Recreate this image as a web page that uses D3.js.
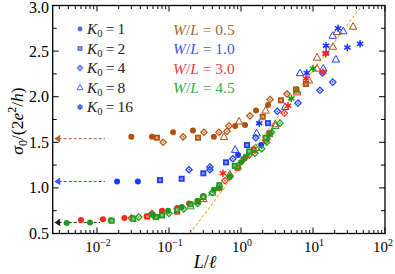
<!DOCTYPE html>
<html><head><meta charset="utf-8">
<script src="https://cdn.jsdelivr.net/npm/d3@7"></script>
<style>
html,body{margin:0;padding:0;background:#fff;}
svg{display:block;}
text{font-family:"Liberation Serif","Times New Roman",serif;}
</style></head>
<body><svg id="chart" width="395" height="274"></svg>
<script>
// ---------------- data ----------------
const k0Values = [1, 2, 4, 8, 16];
const wlLabels = ["0.5", "1.0", "3.0", "4.5"];
const xTickValues = [0.01, 0.1, 1, 10, 100];
const xTickExponents = ["\u22122", "\u22121", "0", "1", "2"];
const yTickValues = [0.5, 1.0, 1.5, 2.0, 2.5, 3.0];
const arrowLevels = [1.54, 1.07, 0.62];      // clean-limit values marked at the axis
const arrowEnds = [0.0129, 0.0129, 0.011];
const diffusiveLine = [[0.195, 0.5], [47.9, 3.0]];

// [L/l, sigma0, K0]
const seriesWL05 = [
 [0.030,1.56,1],[0.058,1.56,1],[0.114,1.61,1],[0.215,1.63,1],[0.42,1.56,1],[0.83,1.68,1],[1.14,1.69,1],[1.62,1.85,1],[2.37,1.91,1],
 [0.068,1.55,2],[0.253,1.55,2],[2.0,1.78,2],[3.59,1.96,2],[5.8,2.08,2],[8.0,2.14,2],
 [0.083,1.50,4],[0.157,1.56,4],[0.306,1.61,4],[0.495,1.61,4],[0.639,1.62,4],[0.68,1.68,4],[1.33,1.79,4],[2.53,1.97,4],[4.35,2.03,4],
 [0.58,1.56,8],[0.94,1.73,8],[2.2,1.85,8],[8.8,2.18,8],[11.4,2.43,8],[18.9,2.55,8],[21.5,2.71,8],[36,2.77,8]
];
const seriesWL10 = [
 [0.019,1.07,1],[0.037,1.07,1],[0.91,1.36,1],[1.9,1.47,1],
 [0.075,1.085,2],[0.15,1.10,2],[0.30,1.16,2],[0.62,1.28,2],[1.21,1.47,2],[2.37,1.71,2],
 [0.19,1.20,4],[0.37,1.23,4],[0.37,1.20,4],[0.77,1.32,4],[1.6,1.55,4],[3.2,1.84,4],[6.2,1.93,4],[12.5,2.07,4],[13.6,2.26,4],[18.8,2.16,4],
 [0.83,1.42,8],[1.65,1.60,8],[4.1,1.89,8],[6.6,2.26,8],[13.9,2.31,8],[20.8,2.41,8],[18.8,2.67,8],[26.3,2.72,8],
 [1.79,1.71,16],[8.2,2.26,16],[15.2,2.48,16],[15.2,2.56,16],[22.3,2.75,16],[30,2.54,16],[45,2.58,16]
];
const seriesWL30 = [
 [0.006,0.648,1],[0.0121,0.655,1],[0.024,0.67,1],[0.049,0.69,1],[0.08,0.75,1],[0.13,0.78,1],[0.19,0.83,1],[0.30,0.91,1],
 [0.05,0.685,2],[0.08,0.70,2],[0.13,0.74,2],[0.25,0.85,2],[0.5,1.0,2],[0.9,1.22,2],[1.5,1.42,2],[2.5,1.6,2],
 [0.03,0.67,4],[0.058,0.72,4],[0.13,0.77,4],[0.3,0.9,4],[0.6,1.08,4],[1.3,1.36,4],[2.2,1.52,4],[4,1.82,4],
 [0.3,0.88,8],[0.7,1.15,8],[1.5,1.42,8],[3,1.7,8],[6,2.05,8],[11.4,2.31,8],
 [0.56,1.16,16],[1.1,1.32,16],[2.3,1.55,16],[4.5,1.9,16],[8,2.2,16],[13.8,2.27,16],[15,2.47,16]
];
const seriesWL45 = [
 [0.0038,0.615,1],[0.008,0.62,1],[0.0156,0.645,1],[0.0317,0.67,1],[0.058,0.71,1],[0.097,0.75,1],[0.15,0.79,1],[0.25,0.86,1],[0.42,0.98,1],[0.7,1.12,1],[1.0,1.28,1],
 [0.016,0.64,2],[0.032,0.66,2],[0.066,0.68,2],[0.08,0.70,2],[0.13,0.76,2],[0.20,0.82,2],[0.30,0.90,2],[0.50,1.03,2],[0.82,1.24,2],[1.3,1.40,2],[2.2,1.55,2],
 [0.038,0.68,4],[0.06,0.70,4],[0.1,0.72,4],[0.16,0.77,4],[0.25,0.83,4],[0.4,0.95,4],[0.7,1.13,4],[1.1,1.32,4],[1.56,1.38,4],[1.94,1.43,4],[2.27,1.5,4],[2.67,1.61,4],[3.48,1.71,4],
 [0.2,0.8,8],[0.4,0.95,8],[0.9,1.24,8],[1.6,1.44,8],[3,1.68,8],[6,2.07,8],
 [0.5,1.0,16],[1.2,1.35,16],[2.5,1.58,16],[5,1.98,16],[10,2.31,16]
];

// ---------------- style ----------------
const markerColors = ["#b4500c", "#1a3cff", "#ff2a14", "#1c9a1c"];
const textColors = ["#a8653a", "#3a5ee0", "#f03c3c", "#3aaa3a"];
const arrowColors = ["#b4602a", "#2f55ff", "#222"];
const legendMarkerColor = "#4a6cf5";

const L = 52.7, R = 385, T = 5.5, B = 233.5;
const svg = d3.select("#chart");

const x = d3.scaleLog().domain([Math.pow(10, -2.615), 100]).range([L, R]);
const y = d3.scaleLinear().domain([0.5, 3.0]).range([B, T]);

svg.append("defs").append("clipPath").attr("id","clip")
  .append("rect").attr("x", L).attr("y", T).attr("width", R - L).attr("height", B - T);

// ---------------- ticks ----------------
const axisG = svg.append("g");
const minorX = [];
for (let e = -3; e < 2; e++) for (let m = 2; m <= 9; m++) {
  const v = m * Math.pow(10, e);
  if (v > x.domain()[0] && v < 100) minorX.push(v);
}
function tickX(vals, len) {
  vals.forEach(v => {
    const px = x(v);
    axisG.append("line").attr("x1", px).attr("x2", px).attr("y1", B).attr("y2", B - len)
      .attr("stroke", "#000").attr("stroke-width", 1);
    axisG.append("line").attr("x1", px).attr("x2", px).attr("y1", T).attr("y2", T + len)
      .attr("stroke", "#000").attr("stroke-width", 1);
  });
}
tickX(xTickValues, 6);
tickX(minorX, 3.5);
const minorY = d3.range(0.75, 3.0, 0.5);
function tickY(vals, len) {
  vals.forEach(v => {
    const py = y(v);
    axisG.append("line").attr("x1", L).attr("x2", L + len).attr("y1", py).attr("y2", py)
      .attr("stroke", "#000").attr("stroke-width", 1);
    axisG.append("line").attr("x1", R).attr("x2", R - len).attr("y1", py).attr("y2", py)
      .attr("stroke", "#000").attr("stroke-width", 1);
  });
}
tickY(yTickValues, 6);
tickY(minorY, 4);

// tick labels
yTickValues.forEach(v => {
  svg.append("text").attr("x", 49).attr("y", Math.max(y(v) + 5.5, 13)).attr("text-anchor", "end")
    .attr("font-size", 16).text(v.toFixed(1));
});
xTickValues.forEach((v, i) => {
  const t = svg.append("text").attr("x", Math.min(x(v) + 1, 383)).attr("y", 252).attr("text-anchor", "middle")
    .attr("font-size", 15);
  t.append("tspan").text("10");
  t.append("tspan").attr("dy", -6).attr("font-size", 10).text(xTickExponents[i]);
});

// axis labels
const yl = svg.append("text").attr("transform", "translate(23,121) rotate(-90)")
  .attr("text-anchor", "middle").attr("font-size", 17.5);
yl.append("tspan").attr("font-style", "italic").text("\u03C3");
yl.append("tspan").attr("dy", 4).attr("font-size", 12).text("0");
yl.append("tspan").attr("dy", -4).text("/(2");
yl.append("tspan").attr("font-style", "italic").text("e");
yl.append("tspan").attr("dy", -7).attr("font-size", 12).text("2");
yl.append("tspan").attr("dy", 7).text("/");
yl.append("tspan").attr("font-style", "italic").text("h");
yl.append("tspan").text(")");

const xl = svg.append("text").attr("x", 205).attr("y", 268).attr("text-anchor", "middle").attr("font-size", 18);
xl.append("tspan").attr("font-style", "italic").text("L");
xl.append("tspan").text("/");
xl.append("tspan").attr("font-style", "italic").text("\u2113");

// ---------------- plot content ----------------
const plot = svg.append("g").attr("clip-path", "url(#clip)");

// diffusive line
plot.append("path")
  .attr("d", d3.line().x(d => x(d[0])).y(d => y(d[1]))(diffusiveLine))
  .attr("fill", "none").attr("stroke", "#ffb030").attr("stroke-width", 1.1).attr("stroke-dasharray", "3,2");

// arrows
arrowLevels.forEach((lv, i) => {
  const py = y(lv);
  plot.append("line").attr("x1", x.range()[0] + 6).attr("x2", x(arrowEnds[i])).attr("y1", py).attr("y2", py)
    .attr("stroke", arrowColors[i]).attr("stroke-width", 1).attr("stroke-dasharray", "3,2");
  plot.append("path")
    .attr("d", `M${L + 1.5},${py} L${L + 7.5},${py - 3.8} L${L + 7.5},${py + 3.8} Z`)
    .attr("fill", arrowColors[i]);
});

function drawMarker(g, k, color, px, py, scale) {
  const s = scale || 1;
  if (k === 1) {
    g.append("circle").attr("cx", px).attr("cy", py).attr("r", 3 * s).attr("fill", color);
  } else if (k === 2) {
    const a = 3 * s;
    g.append("rect").attr("x", px - a).attr("y", py - a).attr("width", 2 * a).attr("height", 2 * a)
      .attr("fill", color);
    g.append("rect").attr("x", px - a * 0.45).attr("y", py - a * 0.45).attr("width", a * 0.9).attr("height", a * 0.9)
      .attr("fill", "#fff").attr("opacity", 0.45);
  } else if (k === 4) {
    const a = 3.2 * s;
    g.append("path").attr("d", `M${px},${py - a} L${px + a},${py} L${px},${py + a} L${px - a},${py} Z`)
      .attr("fill", color).attr("fill-opacity", 0.12).attr("stroke", color).attr("stroke-width", 1.2);
    g.append("circle").attr("cx", px).attr("cy", py).attr("r", 0.8 * s).attr("fill", color);
  } else if (k === 8) {
    const a = 3.9 * s;
    g.append("path").attr("d", `M${px},${py - a} L${px + a * 0.95},${py + a * 0.7} L${px - a * 0.95},${py + a * 0.7} Z`)
      .attr("fill", "none").attr("stroke", color).attr("stroke-width", 1);
  } else {
    g.append("path").attr("transform", `translate(${px},${py})`)
      .attr("d", d3.symbol(d3.symbolAsterisk, 38 * s * s)())
      .attr("fill", "none").attr("stroke", color).attr("stroke-width", 1.5);
    g.append("circle").attr("cx", px).attr("cy", py).attr("r", 1.7 * s).attr("fill", color);
  }
}

const allSeries = [seriesWL05, seriesWL10, seriesWL30, seriesWL45];
allSeries.forEach((ser, si) => {
  const g = plot.append("g");
  ser.forEach(d => drawMarker(g, d[2], markerColors[si], x(d[0]), y(d[1])));
});

// ---------------- legends ----------------
const lg = svg.append("g");
k0Values.forEach((k, i) => {
  const cy = 29 + i * 19.5;
  drawMarker(lg, k, legendMarkerColor, 80, cy, 0.8);
  const t = lg.append("text").attr("x", 87).attr("y", cy + 5).attr("font-size", 15.5).attr("fill", "#222");
  t.append("tspan").attr("font-style", "italic").text("K");
  t.append("tspan").attr("dy", 3).attr("font-size", 10.5).text("0");
  t.append("tspan").attr("dy", -3).text("\u2009=\u2009" + k);
});
wlLabels.forEach((w, i) => {
  const cy = 29 + i * 19.5;
  const t = lg.append("text").attr("x", 173).attr("y", cy + 5.5).attr("font-size", 15.5).attr("fill", textColors[i]);
  t.append("tspan").attr("font-style", "italic").text("W");
  t.append("tspan").text("/");
  t.append("tspan").attr("font-style", "italic").text("L");
  t.append("tspan").text(" = " + w);
});

// frame
svg.append("rect").attr("x", L).attr("y", T).attr("width", R - L).attr("height", B - T)
  .attr("fill", "none").attr("stroke", "#000").attr("stroke-width", 1.3);
</script></body></html>
